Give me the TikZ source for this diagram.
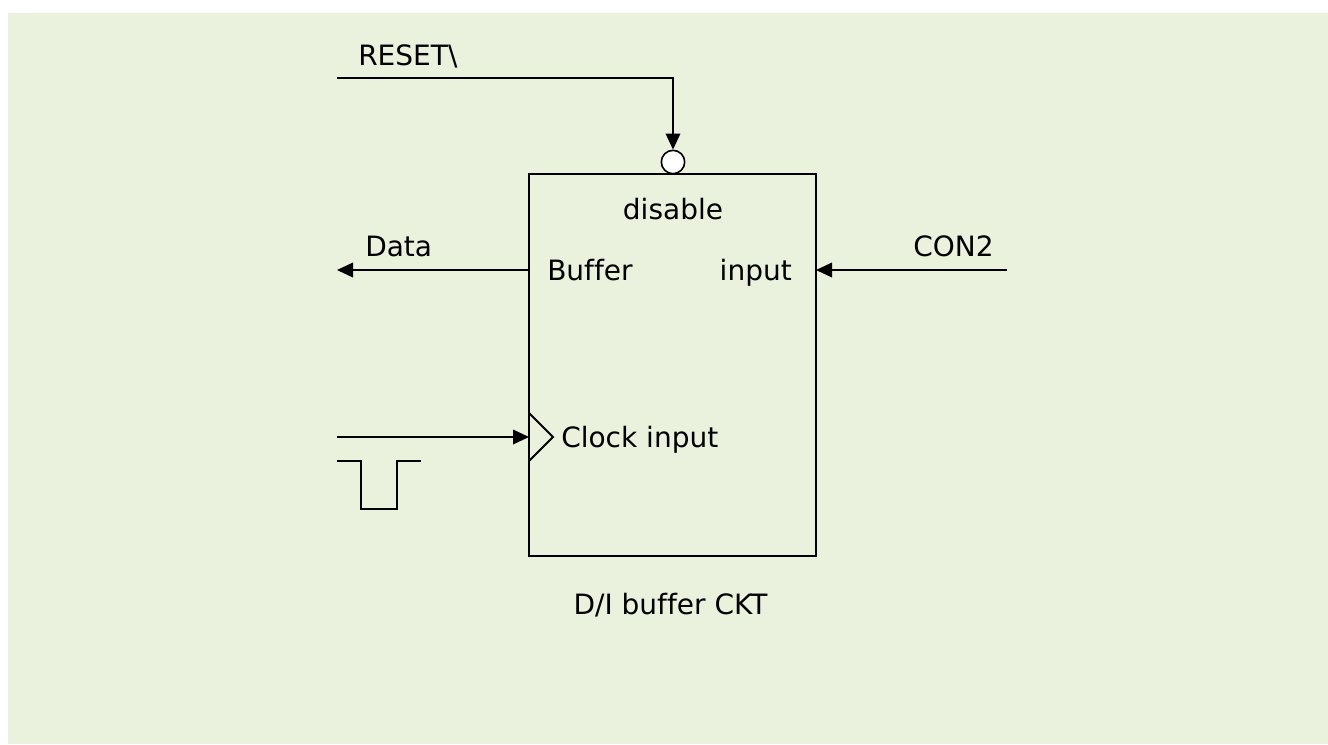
\documentclass[tikz,border=0pt]{standalone}
\usepackage{fontspec}
\setmainfont[Ligatures=NoCommon]{DejaVu Sans}
\usetikzlibrary{arrows.meta}
\definecolor{panelgreen}{HTML}{EAF1DD}

\begin{document}
\begin{tikzpicture}[x=0.75pt, y=-0.75pt,
    wire/.style={line width=1pt},
    sig/.style={wire, -{Triangle[length=12pt, width=11pt]}},
    lbl/.style={font=\fontsize{21}{25}\selectfont, inner sep=0pt}]
    \useasboundingbox (0,0) rectangle (1328,744);
    \fill[panelgreen] (8,13) rectangle (1328,744);

    % the block
    \node[draw, line width=1.6pt, inner sep=0pt, outer sep=0pt,
          minimum width=215.25pt, minimum height=286.5pt] (box) at (672.5,365) {};
    \node[circle, draw, fill=white, line width=1.2pt, inner sep=0pt,
          minimum size=17.5pt] (inv) at (673,162) {};

    \coordinate (resetin) at (337,78);
    \coordinate (dataout) at (337,270);
    \coordinate (conin) at (1007,270);
    \coordinate (clkin) at (337,437);

    \draw[sig] (resetin) -- (resetin -| inv.north) -- (inv.north);
    \draw[sig] (box.west |- dataout) -- (dataout);
    \draw[sig] (conin) -- (conin -| box.east);
    \draw[sig] (clkin) -- (clkin -| box.west);

    % clock mark and pulse
    \draw[line width=1.4pt] (529,413) -- (553,437) -- (529,461);
    \draw[line width=1.5pt] (337,461) -- (361,461) -- (361,509) -- (397,509)
        -- (397,461) -- (421,461);

    \node[lbl, anchor=base west] (reset) at (358,65) {RESET\textbackslash};
    \node[lbl, anchor=base west] (data) at (365,256) {Data};
    \node[lbl, anchor=base west] (con) at (913,256) {CON2};
    \node[lbl, anchor=base] (dis) at (673,219) {disable};
    \node[lbl, anchor=base west] (buf) at (547,280) {Buffer};
    \node[lbl, anchor=base east] (inp) at (792,280) {input};
    \node[lbl, anchor=base west] (clk) at (561,447) {Clock input};
    \node[lbl, anchor=base] (ckt) at (670.5,614) {D/I buffer CKT};
\end{tikzpicture}
\end{document}
